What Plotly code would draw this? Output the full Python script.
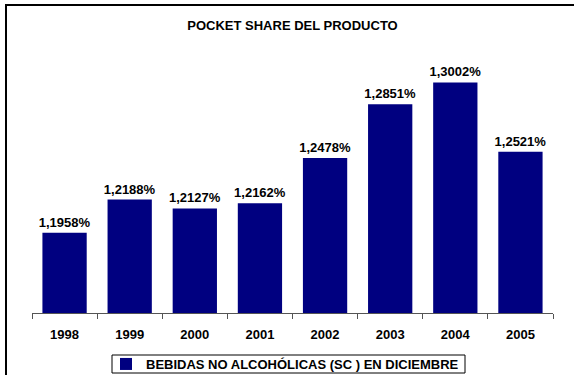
import plotly.graph_objects as go

years = ["1998", "1999", "2000", "2001", "2002", "2003", "2004", "2005"]
values = [1.1958, 1.2188, 1.2127, 1.2162, 1.2478, 1.2851, 1.3002, 1.2521]
labels = ["1,1958%", "1,2188%", "1,2127%", "1,2162%", "1,2478%", "1,2851%", "1,3002%", "1,2521%"]
series_name = "BEBIDAS NO ALCOHÓLICAS (SC ) EN DICIEMBRE"
title_text = "POCKET SHARE DEL PRODUCTO"

W, H = 574, 375
ML, MR, MT, MB = 32, 21, 54, 62
PW, PH = W - ML - MR, H - MT - MB

def px_x(p):
    return (p - ML) / PW

def px_y(p):
    return (H - MB - p) / PH

FONT = "Liberation Sans, Arial, sans-serif"

fig = go.Figure()
fig.add_trace(go.Bar(
    x=years, y=values,
    marker=dict(color="#000080", line=dict(width=0)),
    text=["<b>" + t + "</b>" for t in labels], textposition="outside",
    textfont=dict(family=FONT, size=13, color="black"),
    constraintext="none",
    cliponaxis=False,
    name="<b>" + series_name + "</b>", showlegend=True,
))

fig.update_layout(
    width=W, height=H,
    margin=dict(l=ML, r=MR, t=MT, b=MB, autoexpand=False),
    paper_bgcolor="white", plot_bgcolor="white",
    font=dict(family=FONT, size=13, color="black"),
    bargap=0.32,
    title=dict(text="<b>" + title_text + "</b>", x=0.5, xref="paper", xanchor="center",
               y=1 - 25 / H, yref="container", yanchor="middle",
               font=dict(family=FONT, size=13, color="black")),
    xaxis=dict(type="category", showline=True, linecolor="#555", linewidth=1,
               ticks="outside", ticklen=5, tickcolor="#555", tickson="boundaries",
               tickvals=years, ticktext=["<b>" + y + "</b>" for y in years],
               tickfont=dict(family=FONT, size=13, color="black"),
               ticklabelstandoff=9,
               showgrid=False, zeroline=False),
    yaxis=dict(range=[1.14, 1.32], visible=False, showgrid=False, zeroline=False),
    legend=dict(orientation="h", x=px_x(285), xanchor="center", y=px_y(349), yanchor="top",
                borderwidth=0, bgcolor="rgba(0,0,0,0)",
                font=dict(family=FONT, size=13, color="black"),
                itemwidth=30),
    showlegend=True,
)

# outer frame (top and left visible, extends past right/bottom edges)
fig.add_shape(type="rect", xref="paper", yref="paper",
              x0=px_x(6), x1=px_x(W + 10), y0=px_y(H + 10), y1=px_y(5),
              line=dict(color="black", width=2), fillcolor="rgba(0,0,0,0)", layer="below")
# legend box
fig.add_shape(type="rect", xref="paper", yref="paper",
              x0=px_x(112), x1=px_x(465), y0=px_y(373), y1=px_y(355),
              line=dict(color="black", width=1), fillcolor="white", layer="below")

fig.write_html("out.html", config={"displayModeBar": False},
               post_script="document.body.style.margin='0';document.body.style.overflow='hidden';")
